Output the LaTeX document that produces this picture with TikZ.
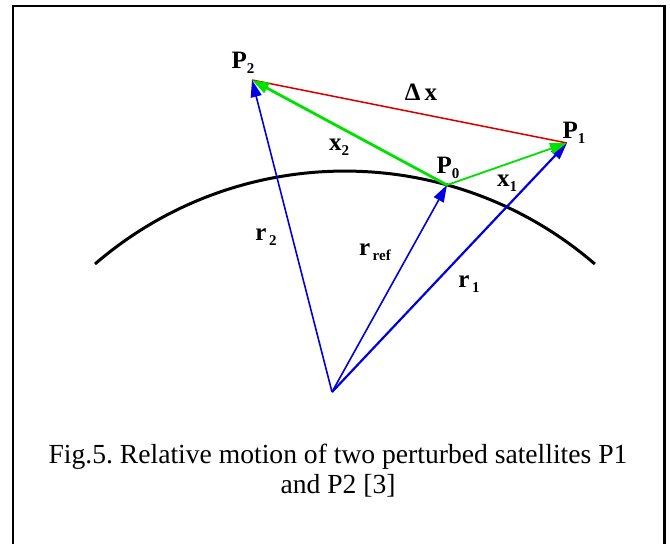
\documentclass[tikz,border=0pt]{standalone}
\usepackage{fontspec}
\setmainfont{Liberation Serif}
\usetikzlibrary{arrows.meta}
\frenchspacing
\definecolor{vblue}{RGB}{0,0,225}
\definecolor{vgreen}{RGB}{0,225,0}
\definecolor{vred}{RGB}{215,0,0}
\newcommand\labsub[2]{\textbf{#1}\raisebox{-0.45ex}{\fontsize{7.5}{8}\selectfont\textbf{#2}}}
\begin{document}
\begin{tikzpicture}[x=0.5pt,y=-0.5pt,
  vhead/.style={-{Triangle[length=8.5pt,width=5.5pt]}},
  rvec/.style={vhead,draw=vblue,line width=0.8pt},
  xvec/.style={vhead,draw=vgreen,line width=1.2pt},
  labtext/.style={font=\fontsize{12.5}{14}\selectfont\bfseries,inner sep=0pt},
  captext/.style={font=\fontsize{13.8}{16}\selectfont,anchor=base,inner sep=0pt}]
\useasboundingbox (0,0) rectangle (670,543);
\draw[line width=1.2pt] (13,545) -- (13,6) -- (664.5,6) -- (664.5,545);
% circular orbit arc
\draw[line width=1.5pt] (95,264) arc[start angle=229.2,end angle=310.8,radius=382.5];
\coordinate (O) at (332,392);
\coordinate (P2) at (252,80);
\coordinate (P1) at (567,143);
\coordinate (P0) at (447,185);
\draw[vred,line width=0.75pt] (P2) -- (P1);
\draw[rvec] (O) -- (P2);
\draw[rvec] (O) -- (P0);
\draw[rvec,line width=1.1pt] (O) -- (P1);
\draw[xvec,line width=1.4pt] (P0) -- (P2);
\draw[xvec,line width=0.9pt] (P0) -- (P1);
\node[labtext] (lP2) at (243,63) {\labsub{P}{2}};
\node[labtext] (lP1) at (574,133) {\labsub{P}{1}};
\node[labtext] (lP0) at (448,168) {\labsub{P}{0}};
\node[labtext] (ldx) at (421,92) {Δ\,x};
\node[labtext] (lx2) at (339,147) {\labsub{x}{2}};
\node[labtext] (lx1) at (507,183) {\labsub{x}{1}};
\node[labtext] (lr2) at (266,237) {\labsub{r}{\,2}};
\node[labtext] (lrr) at (375,252) {\labsub{r}{\,ref}};
\node[labtext] (lr1) at (469,284) {\labsub{r}{\,1}};
\node[captext] (c1) at (338,463) {Fig.5. Relative motion of two perturbed satellites P1};
\node[captext] (c2) at (338,493) {and P2 [3]};
\end{tikzpicture}
\end{document}
